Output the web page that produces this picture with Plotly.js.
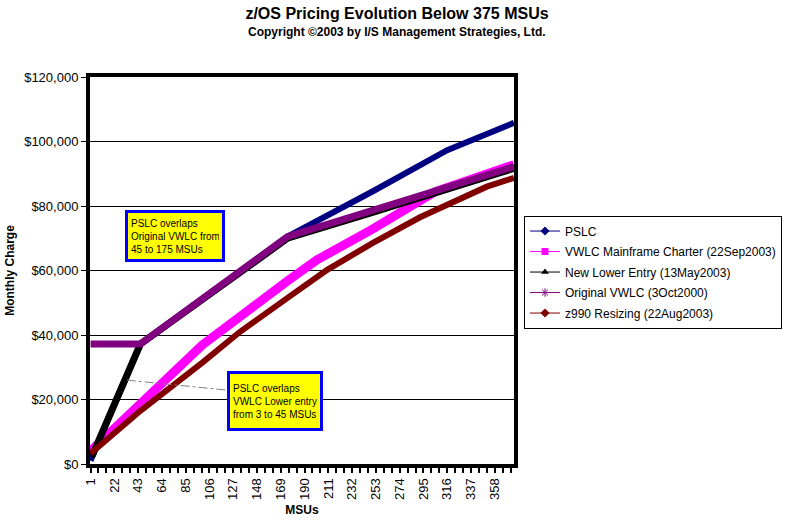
<!DOCTYPE html>
<html>
<head>
<meta charset="utf-8">
<script src="https://cdn.plot.ly/plotly-3.0.1.min.js"></script>
<style>body{margin:0;background:#fff}#chart{width:794px;height:520px}</style>
</head>
<body>
<div id="chart"></div>
<script>
// Series data (MSUs, monthly charge in $)
const pslcMSU = [1, 3, 45, 175, 250, 316, 375];
const pslcVal = [1000, 2800, 37200, 70500, 84500, 97300, 105800];

const charterMSU = [1, 45, 100, 175, 201, 250, 305, 375];
const charterVal = [4000, 18500, 37000, 56800, 63300, 72800, 84400, 92800];

const lowerMSU = [1, 3, 45, 175, 250, 375];
const lowerVal = [2800, 3000, 37200, 70000, 78000, 91700];

const origMSU = [1, 45, 175, 250, 375];
const origVal = [37200, 37200, 70500, 78500, 92200];

const z990MSU = [1, 45, 100, 133, 175, 210, 250, 292, 351, 375];
const z990Val = [3300, 16500, 31500, 41000, 51500, 60200, 68500, 76500, 86000, 88700];

const seriesNames = ['PSLC', 'VWLC Mainframe Charter (22Sep2003)', 'New Lower Entry (13May2003)', 'Original VWLC (3Oct2000)', 'z990 Resizing (22Aug2003)'];
const seriesColors = ['#000080', '#FF00FF', '#000000', '#800080', '#800000'];
const seriesSymbols = ['diamond', 'square', 'triangle-up', 'asterisk', 'diamond'];
const seriesWidths = [6, 9, 7, 7, 6];
const xs = [pslcMSU, charterMSU, lowerMSU, origMSU, z990MSU];
const ys = [pslcVal, charterVal, lowerVal, origVal, z990Val];

const traces = [];
for (let i = 0; i < 5; i++) {
  traces.push({
    x: xs[i], y: ys[i], type: 'scatter', mode: 'lines',
    line: {color: seriesColors[i], width: seriesWidths[i]},
    showlegend: false, hoverinfo: 'skip'
  });
}
for (let i = 0; i < 5; i++) {
  traces.push({
    x: [null], y: [null], type: 'scatter', mode: 'lines+markers', name: seriesNames[i],
    legendgroup: 'g' + i,
    line: {color: seriesColors[i], width: 1},
    marker: {color: seriesColors[i], symbol: seriesSymbols[i], size: 7,
             line: {color: seriesColors[i], width: seriesSymbols[i] === 'asterisk' ? 1 : 0}}
  });
}

const font = 'Arial, "Liberation Sans", sans-serif';
const layout = {
  width: 794, height: 520,
  margin: {l: 90, r: 280, t: 77, b: 56},
  paper_bgcolor: '#fff', plot_bgcolor: '#fff',
  font: {family: font, size: 13, color: '#000'},
  title: {
    text: '<b>z/OS Pricing Evolution Below 375 MSUs</b>',
    x: 0.5, xref: 'container', y: 1 - 13 / 520, yref: 'container', yanchor: 'middle',
    font: {family: font, size: 16, color: '#000'}
  },
  xaxis: {
    range: [0.5, 375], tickmode: 'linear', tick0: 1, dtick: 21,
    tickangle: -90, ticks: 'outside', ticklen: 5, tickwidth: 2, tickcolor: '#000',
    minor: {tickmode: 'linear', tick0: 1, dtick: 7, ticks: 'outside', ticklen: 5, tickwidth: 2, tickcolor: '#000', showgrid: false},
    showgrid: false, zeroline: false,
    showline: true, linecolor: '#000', linewidth: 4, mirror: true,
    tickfont: {size: 13, family: font},
    title: {text: '<b>MSUs</b>', font: {size: 12, family: font}, standoff: 8}
  },
  yaxis: {
    range: [0, 120000], dtick: 20000, tickprefix: '$', tickformat: ',d',
    ticks: 'outside', ticklen: 5, tickwidth: 1, tickcolor: '#000',
    showgrid: true, gridcolor: '#000', gridwidth: 1, zeroline: false,
    showline: true, linecolor: '#000', linewidth: 4, mirror: true,
    tickfont: {size: 13, family: font},
    title: {text: '<b>Monthly Charge</b>', font: {size: 12, family: font}, standoff: 8}
  },
  legend: {
    x: 1.0236, y: 0.642, xanchor: 'left', yanchor: 'top',
    bgcolor: '#fff', bordercolor: '#000', borderwidth: 1,
    font: {size: 12, family: font, color: '#000'},
    tracegroupgap: 1.5
  },
  shapes: [{
    type: 'line', xref: 'x', yref: 'y', x0: 33, y0: 26000, x1: 122, y1: 22900,
    line: {color: '#808080', width: 1, dash: 'dashdot'}
  }],
  annotations: [
    {
      xref: 'paper', yref: 'paper', x: (397 - 90) / 424, y: (464 - 32) / 387,
      xanchor: 'center', yanchor: 'middle', showarrow: false,
      text: '<b>Copyright ©2003 by I/S Management Strategies, Ltd.</b>',
      font: {size: 12, family: font, color: '#000'}
    },
    {
      xref: 'x', yref: 'y', x: 76, y: 70700, xanchor: 'center', yanchor: 'middle',
      text: 'PSLC overlaps<br>Original VWLC from<br>45 to 175 MSUs', align: 'left', showarrow: false,
      bgcolor: '#FFFF00', bordercolor: '#0000FF', borderwidth: 3, borderpad: 3,
      width: 88, height: 40, font: {size: 10, family: font, color: '#000'}
    },
    {
      xref: 'x', yref: 'y', x: 164, y: 19400, xanchor: 'center', yanchor: 'middle',
      text: 'PSLC overlaps<br>VWLC Lower entry<br>from 3 to 45 MSUs', align: 'left', showarrow: false,
      bgcolor: '#FFFF00', bordercolor: '#0000FF', borderwidth: 3, borderpad: 3,
      width: 84, height: 48, font: {size: 10, family: font, color: '#000'}
    }
  ]
};
Plotly.newPlot('chart', traces, layout, {displayModeBar: false, staticPlot: true});
</script>
</body>
</html>
